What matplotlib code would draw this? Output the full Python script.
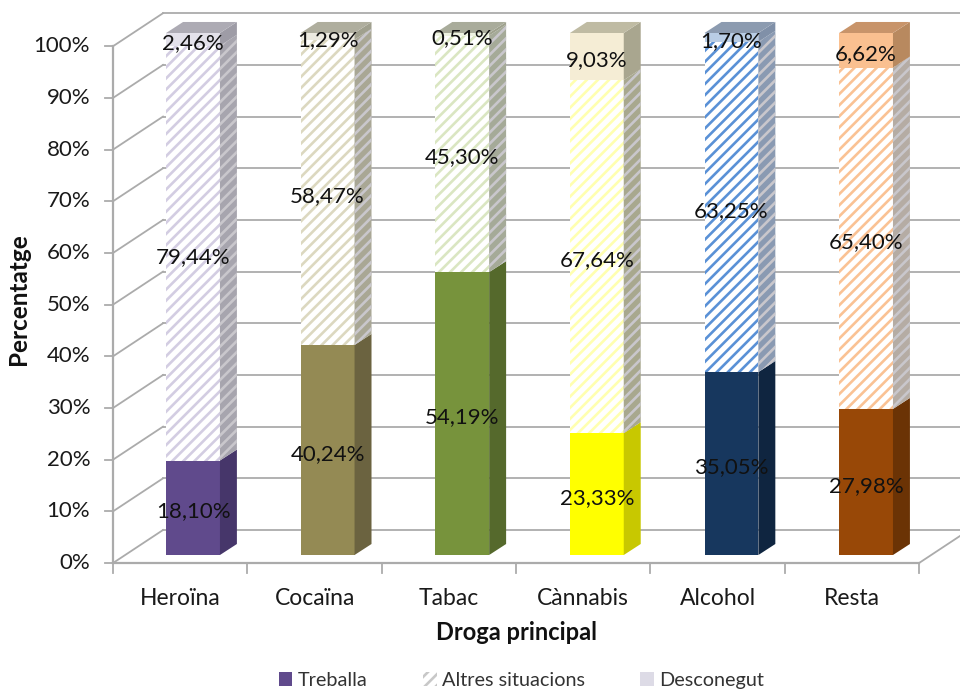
import matplotlib.pyplot as plt
from matplotlib.patches import Polygon, Rectangle, Patch

plt.rcParams['font.family'] = ['Lato', 'DejaVu Sans']
plt.rcParams['hatch.linewidth'] = 1.9

categories = ["Heroïna", "Cocaïna", "Tabac", "Cànnabis", "Alcohol", "Resta"]
treballa = [18.10, 40.24, 54.19, 23.33, 35.05, 27.98]
altres = [79.44, 58.47, 45.30, 67.64, 63.25, 65.40]
desconegut = [2.46, 1.29, 0.51, 9.03, 1.70, 6.62]
series_names = ["Treballa", "Altres situacions", "Desconegut"]
y_ticks = [0, 10, 20, 30, 40, 50, 60, 70, 80, 90, 100]

# colours per category: (front, side) for each segment, plus top face
treballa_cols = [("#604A8C", "#46366A"), ("#948A54", "#6B6340"), ("#77933C", "#55692C"),
                 ("#FFFF00", "#C8C800"), ("#17375E", "#0F2540"), ("#984807", "#6B3305")]
altres_cols = [("#D3CDE2", "#A7A5AE"), ("#DCD8C0", "#A9A795"), ("#DAE6C2", "#A5AA98"),
               ("#FFFFB0", "#A8A88E"), ("#5A91D6", "#8A9AB2"), ("#FAC294", "#B5ACA4")]
desc_cols = [("#E3E1EA", "#9E9CA6"), ("#ECEAE0", "#A0A08E"), ("#EEF3E2", "#9EA18D"),
             ("#F5EDD5", "#A9A68F"), ("#B9CDE5", "#8090A8"), ("#FAC090", "#B8895F")]
top_cols = ["#ADABB4", "#AFAE9E", "#A9AC9B", "#BFBBA3", "#8C9BB0", "#C8946A"]

fig = plt.figure(figsize=(9.6, 6.91), dpi=100)
ax = fig.add_axes([0, 0, 1, 1])
ax.set_xlim(-1.434, 5.698)
ax.set_ylim(-26.05, 106.32)
ax.axis('off')

grid_c = "#ABABAB"
txt_c = "#1A1A1A"
x0 = -0.594          # front left wall
x1 = 5.394           # front right end of floor
ddx, ddy = 0.371, 6.32   # wall depth


def yf(v):
    return -1.53 + 0.99 * v


# back wall gridlines and left wall diagonals
for v in y_ticks:
    ax.plot([x0 + ddx, 5.8], [yf(v) + ddy] * 2, color=grid_c, lw=1.3, zorder=1)
    ax.plot([x0, x0 + ddx], [yf(v), yf(v) + ddy], color=grid_c, lw=1.3, zorder=1)
    ax.plot([x0 - 0.06, x0], [yf(v)] * 2, color=grid_c, lw=1.3, zorder=1)
    ax.text(x0 - 0.17, yf(v), f"{v}%", ha='right', va='center', fontsize=16, color=txt_c)
ax.plot([x0, x0], [yf(0), yf(100)], color=grid_c, lw=1.6, zorder=1)
ax.plot([x0, x1], [yf(0)] * 2, color=grid_c, lw=1.6, zorder=1)
ax.plot([x1, x1 + ddx], [yf(0), yf(0) + ddy], color=grid_c, lw=1.3, zorder=1)

cw = (x1 - x0) / len(categories)
for k in range(len(categories) + 1):
    ax.plot([x0 + k * cw] * 2, [yf(0), yf(0) - 1.9], color=grid_c, lw=1.3, zorder=1)
for k, name in enumerate(categories):
    ax.text(x0 + (k + 0.5) * cw, -8.3, name, ha='center', va='center', fontsize=16.5, color=txt_c)

# bars
hw = 0.2
bdx, bdy = 0.126, 2.11
for i in range(len(categories)):
    vals = [treballa[i], altres[i], desconegut[i]]
    cols = [treballa_cols[i], altres_cols[i], desc_cols[i]]
    bottom = 0
    for s, (v, (fc, sc)) in enumerate(zip(vals, cols)):
        top = bottom + v
        if s == 1:
            ax.add_patch(Rectangle((i - hw, bottom), 2 * hw, v, facecolor="white",
                                   edgecolor=fc, hatch='///', lw=0, zorder=3))
            ax.add_patch(Polygon([(i + hw, bottom), (i + hw + bdx, bottom + bdy),
                                  (i + hw + bdx, top + bdy), (i + hw, top)],
                                 facecolor=sc, edgecolor="#C9C7CC", hatch='///', lw=0, zorder=3))
        else:
            ax.add_patch(Rectangle((i - hw, bottom), 2 * hw, v, facecolor=fc, lw=0, zorder=3))
            ax.add_patch(Polygon([(i + hw, bottom), (i + hw + bdx, bottom + bdy),
                                  (i + hw + bdx, top + bdy), (i + hw, top)],
                                 facecolor=sc, lw=0, zorder=3))
        lab = f"{v:.2f}%".replace('.', ',')
        ax.text(i, bottom + v / 2 - 0.7, lab, ha='center', va='center', fontsize=16,
                color="#111111", zorder=5)
        bottom = top
    ax.add_patch(Polygon([(i - hw, bottom), (i + hw, bottom), (i + hw + bdx, bottom + bdy),
                          (i - hw + bdx, bottom + bdy)], facecolor=top_cols[i], lw=0, zorder=3))

ax.text((x0 + x1) / 2, -14.8, "Droga principal", ha='center', va='center',
        fontsize=17, fontweight='bold', color="#111111")
ax.text(-1.30, 49, "Percentatge", ha='center', va='center', rotation=90,
        fontsize=17.5, fontweight='bold', color="#111111")

handles = [Patch(facecolor=treballa_cols[0][0], lw=0),
           Patch(facecolor="white", edgecolor="#C8C8C8", hatch='///', lw=0),
           Patch(facecolor="#DDDBE6", lw=0)]
fig.legend(handles, series_names, loc='center', bbox_to_anchor=(0.543, 0.015), ncol=3,
           frameon=False, fontsize=14.3, handlelength=0.7, handleheight=0.7,
           handletextpad=0.25, columnspacing=2.8, labelcolor="#333333")

fig.savefig("out.png", dpi=100)
